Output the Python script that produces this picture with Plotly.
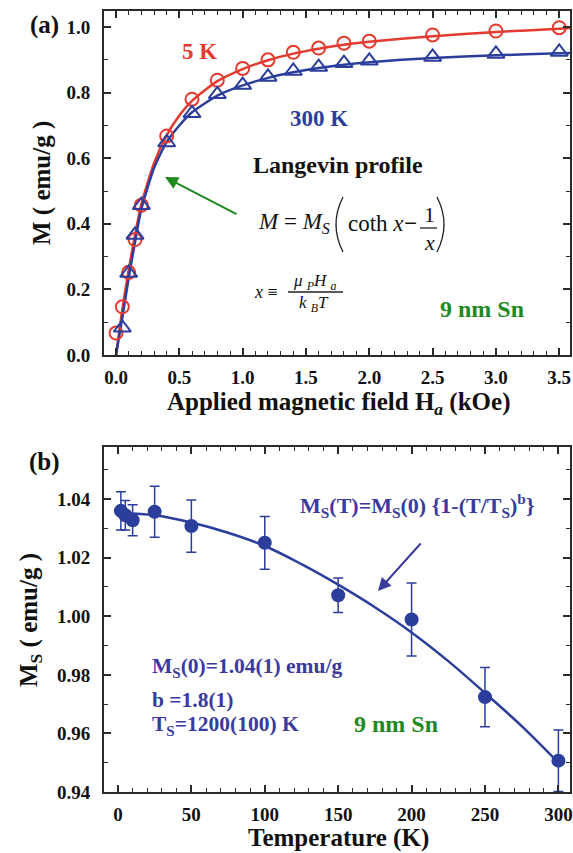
import plotly.graph_objects as go

W, H = 573, 853

# ---- Panel (a) data ----
H5 = [0.0, 0.05, 0.1, 0.15, 0.2, 0.4, 0.6, 0.8, 1.0, 1.2, 1.4, 1.6, 1.8, 2.0, 2.5, 3.0, 3.5]
M5 = [0.067, 0.147, 0.252, 0.352, 0.457, 0.668, 0.78, 0.838, 0.874, 0.90, 0.923, 0.936, 0.951, 0.957, 0.976, 0.988, 0.998]
H300 = [0.05, 0.1, 0.15, 0.2, 0.4, 0.6, 0.8, 1.0, 1.2, 1.4, 1.6, 1.8, 2.0, 2.5, 3.0, 3.5]
M300 = [0.083, 0.25, 0.366, 0.457, 0.648, 0.737, 0.795, 0.823, 0.848, 0.866, 0.878, 0.89, 0.897, 0.909, 0.918, 0.924]
fit5_H = [0.0, 0.05, 0.1, 0.15, 0.2, 0.3, 0.4, 0.5, 0.6, 0.8, 1.0, 1.2, 1.4, 1.6, 1.8, 2.0, 2.5, 3.0, 3.5, 3.585]
fit5_M = [0.0, 0.14, 0.26, 0.365, 0.46, 0.585, 0.67, 0.73, 0.775, 0.835, 0.872, 0.899, 0.919, 0.934, 0.946, 0.955, 0.972, 0.985, 0.995, 0.997]
fit300_H = [0.0, 0.05, 0.1, 0.15, 0.2, 0.3, 0.4, 0.5, 0.6, 0.8, 1.0, 1.2, 1.4, 1.6, 1.8, 2.0, 2.5, 3.0, 3.5, 3.585]
fit300_M = [0.0, 0.115, 0.235, 0.345, 0.445, 0.57, 0.65, 0.70, 0.74, 0.791, 0.822, 0.845, 0.862, 0.875, 0.885, 0.893, 0.906, 0.914, 0.92, 0.921]

# ---- Panel (b) data ----
T = [2, 5, 10, 25, 50, 100, 150, 200, 250, 300]
Ms = [1.036, 1.0345, 1.0328, 1.0357, 1.0308, 1.0251, 1.0072, 0.9989, 0.9724, 0.9507]
Ms_err = [0.0065, 0.005, 0.0053, 0.0087, 0.0089, 0.009, 0.0059, 0.0125, 0.0101, 0.0105]
fitT = [3, 25, 50, 75, 100, 125, 150, 175, 200, 225, 250, 275, 300]
fitMs = [1.0352, 1.0345, 1.0320, 1.0285, 1.0240, 1.0178, 1.0108, 1.0031, 0.9945, 0.9847, 0.9738, 0.9625, 0.9500]

RED = "#e53a2f"
BLUE = "#2c3e9c"
TBLUE = "#3b3a9e"
GREEN = "#1f8a1f"
FONT = "Liberation Serif"
AX = "#2a2a2a"


def P(px, py):
    return px / W, 1 - py / H


fig = go.Figure()
fig.add_trace(go.Scatter(x=fit5_H, y=fit5_M, mode="lines", line=dict(color=RED, width=2.5, shape="spline", smoothing=0.6),
                         xaxis="x", yaxis="y", showlegend=False))
fig.add_trace(go.Scatter(x=fit300_H, y=fit300_M, mode="lines", line=dict(color=BLUE, width=2.5, shape="spline", smoothing=0.6),
                         xaxis="x", yaxis="y", showlegend=False))
fig.add_trace(go.Scatter(x=H5, y=M5, mode="markers",
                         marker=dict(symbol="circle-open", size=13, color=RED, line=dict(width=2)),
                         xaxis="x", yaxis="y", showlegend=False))
fig.add_trace(go.Scatter(x=H300, y=M300, mode="markers",
                         marker=dict(symbol="triangle-up-open", size=15, color=BLUE, line=dict(width=2)),
                         xaxis="x", yaxis="y", showlegend=False))

fig.add_trace(go.Scatter(x=fitT, y=fitMs, mode="lines", line=dict(color=BLUE, width=2.5, shape="spline"),
                         xaxis="x2", yaxis="y2", showlegend=False))
fig.add_trace(go.Scatter(x=T, y=Ms, mode="markers",
                         marker=dict(symbol="circle", size=14, color=BLUE),
                         error_y=dict(type="data", array=Ms_err, color=BLUE, thickness=1.5, width=5),
                         xaxis="x2", yaxis="y2", showlegend=False))

axcommon = dict(showline=True, linecolor=AX, linewidth=1.8, mirror="ticks", ticks="inside", ticklen=7,
                tickwidth=1.5, tickcolor=AX, showgrid=False, zeroline=False, automargin=False,
                ticklabeloverflow="allow",
                tickfont=dict(family=FONT, size=19, color="#111", weight="bold"))
minor = dict(ticklen=4, ticks="inside", tickwidth=1.2, tickcolor=AX)

xd = [104 / W, 570 / W]
fig.update_layout(
    width=W, height=H, margin=dict(l=0, r=0, t=0, b=0),
    paper_bgcolor="white", plot_bgcolor="white", template="none",
    xaxis=dict(domain=xd, range=[-0.095, 3.585], tickvals=[0, 0.5, 1, 1.5, 2, 2.5, 3, 3.5], tickformat=".1f",
               minor=dict(dtick=0.1, **minor), anchor="y", ticklabelstandoff=4, **axcommon),
    yaxis=dict(domain=[1 - 355 / H, 1 - 11 / H], range=[0, 1.049], tickvals=[0, 0.2, 0.4, 0.6, 0.8, 1.0], tickformat=".1f",
               minor=dict(dtick=0.1, **minor), anchor="x", ticklabelstandoff=8, **axcommon),
    xaxis2=dict(domain=xd, range=[-9.5, 307.9], tickvals=[0, 50, 100, 150, 200, 250, 300],
                minor=dict(dtick=10, **minor), anchor="y2", ticklabelstandoff=4, **axcommon),
    yaxis2=dict(domain=[1 - 792 / H, 1 - 447 / H], range=[0.94, 1.0578], tickvals=[0.94, 0.96, 0.98, 1.0, 1.02, 1.04],
                tickformat=".2f", minor=dict(dtick=0.01, **minor), anchor="x2", ticklabelstandoff=8, **axcommon),
)

ann = []


def txt(px, py, s, size=20, color="#111", bold=True, anchor="center", angle=0):
    x, y = P(px, py)
    ann.append(dict(x=x, y=y, xref="paper", yref="paper", text=s, showarrow=False, xanchor=anchor, yanchor="middle",
                    textangle=angle,
                    font=dict(family=FONT, size=size, color=color, weight="bold" if bold else "normal")))


txt(44, 25, "(a)", size=25)
txt(44, 462, "(b)", size=25)
txt(199, 52, "5 K", size=23, color=RED)
txt(319, 118, "300 K", size=23, color=BLUE)
txt(338, 165, "Langevin profile", size=24)
txt(482, 309, "9 nm Sn", size=24, color=GREEN)
txt(338, 404, "Applied magnetic field H<sub><i>a</i></sub> (kOe)", size=25)
txt(42, 183, "M ( emu/g )", size=25, angle=-90)
txt(30, 620, "M<sub>S</sub> ( emu/g )", size=25, angle=-90)
txt(338, 838, "Temperature (K)", size=25)

# Langevin formula
txt(256, 223, "<i>M</i> = <i>M</i><sub><i>S</i></sub>", size=23, bold=False, anchor="left")
txt(346, 223, "coth <i>x</i>", size=23, bold=False, anchor="left")
txt(410, 223, "−", size=23, bold=True)
txt(429, 214, "1", size=22, bold=False)
txt(429, 243, "<i>x</i>", size=22, bold=False)
# x definition
txt(252, 292, "<i>x</i> ≡", size=18, bold=False, anchor="left")
txt(315, 282, "<i>μ</i> <sub><i>P</i></sub><i>H</i> <sub><i>a</i></sub>", size=17, bold=False)
txt(314, 304, "<i>k</i> <sub><i>B</i></sub><i>T</i>", size=17, bold=False)

# panel b texts
txt(417, 505, "M<sub>S</sub>(T)=M<sub>S</sub>(0) {1-(T/T<sub>S</sub>)<sup>b</sup>}", size=22, color=TBLUE)
txt(150, 667, "M<sub>S</sub>(0)=1.04(1) emu/g", size=21.5, color=TBLUE, anchor="left")
txt(150, 700, "b =1.8(1)", size=21.5, color=TBLUE, anchor="left")
txt(150, 725, "T<sub>S</sub>=1200(100) K", size=21.5, color=TBLUE, anchor="left")
txt(396, 724, "9 nm Sn", size=24, color=GREEN)

# arrows
hx, hy = P(165, 177)
ann.append(dict(x=hx, y=hy, xref="paper", yref="paper", ax=73, ay=38, axref="pixel", ayref="pixel",
                text="", showarrow=True, arrowhead=2, arrowsize=1.3, arrowwidth=2, arrowcolor=GREEN))
hx, hy = P(378, 591)
ann.append(dict(x=hx, y=hy, xref="paper", yref="paper", ax=44, ay=-49, axref="pixel", ayref="pixel",
                text="", showarrow=True, arrowhead=2, arrowsize=1.3, arrowwidth=2, arrowcolor=TBLUE))
fig.update_layout(annotations=ann)


def pt(px, py):
    x, y = P(px, py)
    return f"{x:.5f},{y:.5f}"


shapes = []
for (x0, x1, y) in [(420, 437, 228), (288, 343, 292)]:
    a0, b0 = P(x0, y)
    a1, _ = P(x1, y)
    shapes.append(dict(type="line", xref="paper", yref="paper", x0=a0, x1=a1, y0=b0, y1=b0,
                       line=dict(color="#222", width=1.3)))
# big parentheses of the formula
for (xt, xc) in [(343, 329), (437, 451)]:
    path = f"M {pt(xt, 197)} Q {pt(xc, 224.5)} {pt(xt, 252)}"
    shapes.append(dict(type="path", xref="paper", yref="paper", path=path, line=dict(color="#222", width=1.3)))
fig.update_layout(shapes=shapes)

fig.write_html("out.html")
